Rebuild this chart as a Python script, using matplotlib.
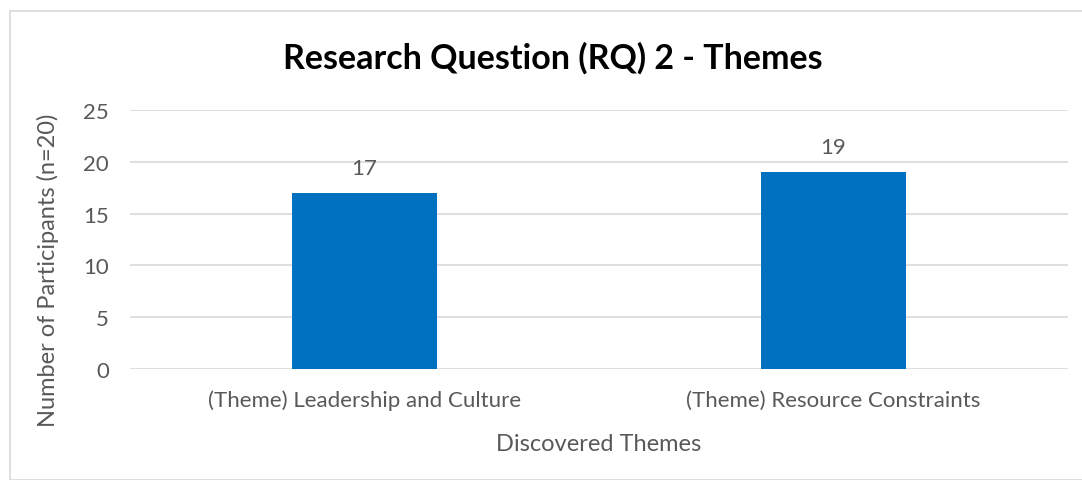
import matplotlib.pyplot as plt
from matplotlib.patches import Rectangle

themes = ['(Theme) Leadership and Culture', '(Theme) Resource Constraints']
participants = [17, 19]
y_ticks = [0, 5, 10, 15, 20, 25]

plt.rcParams['font.family'] = ['Lato', 'DejaVu Sans']
grey = '#595959'

fig = plt.figure(figsize=(10.82, 4.81), dpi=100)
fig.patches.append(Rectangle((10 / 1082, 0.0), 1.2, 1 - 12 / 481, transform=fig.transFigure,
                             fill=False, edgecolor='#d9d9d9', linewidth=1.2))
ax = fig.add_axes([130 / 1082, 1 - 370 / 481, 938 / 1082, 259 / 481])

x = range(len(themes))
bars = ax.bar(x, participants, width=0.31, color='#0070c0', zorder=3)
ax.bar_label(bars, labels=[str(v) for v in participants], padding=11, fontsize=16, color=grey)

ax.set_xlim(-0.5, 1.5)
ax.set_ylim(0, 25)
ax.set_yticks(y_ticks)
ax.set_xticks(list(x))
ax.set_xticklabels(themes)
ax.tick_params(axis='both', length=0, labelsize=16, colors=grey)
ax.tick_params(axis='x', pad=15)
ax.tick_params(axis='y', pad=15)
ax.grid(axis='y', color='#d9d9d9', linewidth=1.2, zorder=0)
for s in ax.spines.values():
    s.set_visible(False)

ax.set_xlabel('Discovered Themes', fontsize=17, color=grey, labelpad=16)
ax.set_ylabel('Number of Participants (n=20)', fontsize=17, color=grey, va='center')
ax.yaxis.set_label_coords((48 - 130) / 938, (370 - 270) / 259)
fig.text(553 / 1082, 1 - 58 / 481, 'Research Question (RQ) 2 - Themes', ha='center', va='center',
         fontsize=24.5, fontweight='bold', color='black')

fig.savefig('out.png', dpi=100)
